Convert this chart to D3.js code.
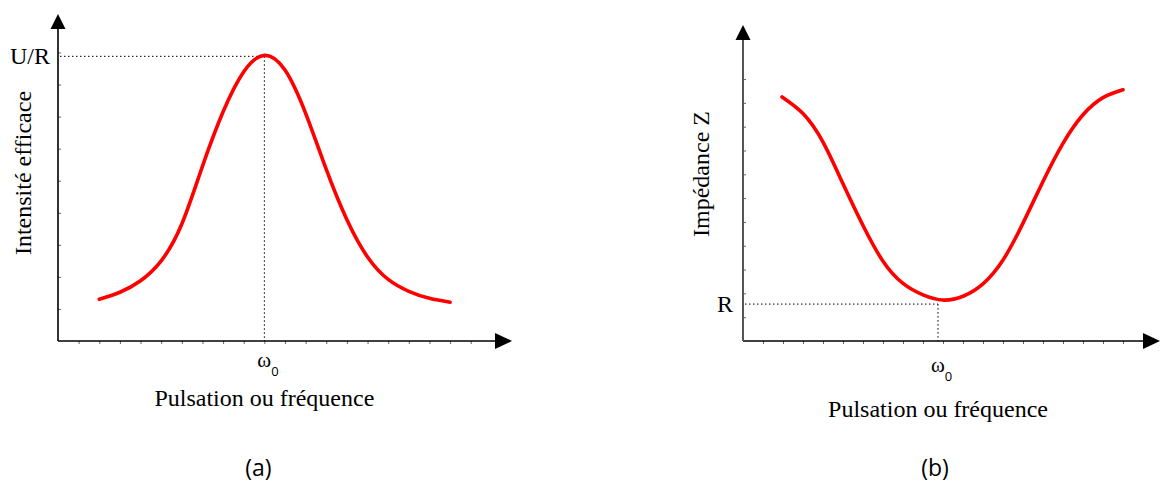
<!DOCTYPE html>
<html><head><meta charset="utf-8">
<script src="https://cdn.jsdelivr.net/npm/d3@7"></script>
<style>
body{margin:0;background:#fff;}
svg{display:block;}
.serif{font-family:"Liberation Serif","Times New Roman",serif;fill:#000;}
.sans{font-family:"Open Sans","Liberation Sans",sans-serif;fill:#000;}
</style></head><body>
<svg id="c" width="1163" height="484"></svg>
<script>
// ---- data (tick units) ----
const intensityX = [2, 3, 4, 5, 6, 7, 8, 9, 10, 11, 12, 13, 14, 15, 16, 17, 18, 19];
const intensityY = [1.30, 1.52, 1.88, 2.50, 3.65, 5.45, 7.15, 8.40, 8.91, 8.45, 7.10, 5.35, 3.78, 2.62, 1.92, 1.55, 1.33, 1.21];
const impedanceX = [1.95, 3, 4, 5, 6, 7, 8, 9, 10, 11, 12, 13, 14, 15, 16, 17, 18, 19];
const impedanceY = [10.25, 9.55, 8.35, 6.6, 4.85, 3.35, 2.42, 1.94, 1.72, 1.88, 2.4, 3.4, 4.95, 6.7, 8.3, 9.5, 10.22, 10.55];
const omega0A = 10.0, peakA = 8.88;
const omega0B = 9.75, minB = 1.55;
const xTicksA = d3.range(1, 21), yTicksA = d3.range(1, 10);
const xTicksB = d3.range(1, 20), yTicksB = d3.range(1, 12);
const yLabelA = "Intensité efficace", yLabelB = "Impédance Z";
const xLabel = "Pulsation ou fréquence";
const levelA = "U/R", levelB = "R";
const panelA = "(a)", panelB = "(b)";

const svg = d3.select("#c");

function panel(cfg) {
  const g = svg.append("g");
  const x = d3.scaleLinear().domain(cfg.xDomain).range(cfg.xRange);
  const y = d3.scaleLinear().domain(cfg.yDomain).range(cfg.yRange);
  const x0 = x.range()[0], y0 = y.range()[0];
  const xEnd = x.range()[1], yEnd = y.range()[1];

  // ticks
  g.append("g").attr("transform", `translate(0,${y0})`)
    .call(d3.axisBottom(x).tickValues(cfg.xTicks).tickSize(3).tickFormat(""))
    .call(s => { s.select(".domain").remove(); s.selectAll("line").attr("stroke", "#666"); });
  g.append("g").attr("transform", `translate(${x0},0)`)
    .call(d3.axisRight(y).tickValues(cfg.yTicks).tickSize(3).tickFormat(""))
    .call(s => { s.select(".domain").remove(); s.selectAll("line").attr("stroke", "#666"); });

  // axis lines
  g.append("line").attr("x1", x0).attr("x2", xEnd - 14).attr("y1", y0).attr("y2", y0)
    .attr("stroke", "#000").attr("stroke-width", 1.6);
  g.append("line").attr("x1", x0).attr("x2", x0).attr("y1", y0).attr("y2", yEnd + 12)
    .attr("stroke", cfg.yAxisColor).attr("stroke-width", cfg.yAxisWidth);
  // arrows
  g.append("path").attr("d", `M${xEnd},${y0} L${xEnd-17},${y0-8} L${xEnd-17},${y0+8} Z`).attr("fill", "#000");
  g.append("path").attr("d", `M${x0},${yEnd} L${x0-7.5},${yEnd+15} L${x0+7.5},${yEnd+15} Z`).attr("fill", "#000");

  // dotted guides
  g.append("line").attr("x1", x0 + 2).attr("x2", x(cfg.om)).attr("y1", y(cfg.lev)).attr("y2", y(cfg.lev))
    .attr("stroke", "#000").attr("stroke-width", 1).attr("stroke-dasharray", "1.5,2.5");
  g.append("line").attr("x1", x(cfg.om)).attr("x2", x(cfg.om)).attr("y1", y(cfg.lev)).attr("y2", y0)
    .attr("stroke", "#000").attr("stroke-width", 1).attr("stroke-dasharray", "1.5,2.5");

  // curve
  const pts = cfg.xs.map((v, i) => [v, cfg.ys[i]]);
  g.append("path").datum(pts)
    .attr("d", d3.line().x(d => x(d[0])).y(d => y(d[1])).curve(d3.curveNatural))
    .attr("fill", "none").attr("stroke", "#ff0000").attr("stroke-width", 3.6).attr("stroke-linecap", "round");

  // labels
  g.append("text").attr("class", "serif").attr("font-size", 24).attr("text-anchor", "end")
    .attr("x", x0 - cfg.levOff).attr("y", y(cfg.lev) + 8).text(cfg.levText);
  g.append("text").attr("class", "serif").attr("font-size", 24).attr("text-anchor", "middle")
    .attr("transform", `translate(${cfg.yLabX},${cfg.yLabY}) rotate(-90)`).text(cfg.yLab);
  const om = g.append("text").attr("x", x(cfg.om) - 7).attr("y", y0 + cfg.omDy);
  om.append("tspan").attr("class", "serif").attr("font-size", 21).text("ω");
  om.append("tspan").attr("class", "sans").attr("font-size", 13).attr("dy", 9).text("0");
  g.append("text").attr("class", "serif").attr("font-size", 24).attr("text-anchor", "middle")
    .attr("x", x(cfg.om)).attr("y", y0 + cfg.xLabDy).text(xLabel);
  g.append("text").attr("class", "sans").attr("font-size", 23).attr("text-anchor", "middle")
    .attr("x", x(cfg.om) + cfg.panDx).attr("y", 476).text(cfg.panel);
}

panel({xDomain:[0,22], xRange:[58,512], yDomain:[0,10.2], yRange:[341,14],
  xTicks:xTicksA, yTicks:yTicksA, xs:intensityX, ys:intensityY, om:omega0A, lev:peakA,
  levText:levelA, levOff:8, yLab:yLabelA, yLabX:31, yLabY:173, yAxisColor:"#000", yAxisWidth:1.6,
  omDy:26, xLabDy:65, panel:panelA, panDx:-6});
panel({xDomain:[0,20.85], xRange:[743,1160], yDomain:[0,13.27], yRange:[341,25],
  xTicks:xTicksB, yTicks:yTicksB, xs:impedanceX, ys:impedanceY, om:omega0B, lev:minB,
  levText:levelB, levOff:10, yLab:yLabelB, yLabX:709, yLabY:174, yAxisColor:"#555", yAxisWidth:2,
  omDy:31, xLabDy:76, panel:panelB, panDx:-3});
</script>
</body></html>
